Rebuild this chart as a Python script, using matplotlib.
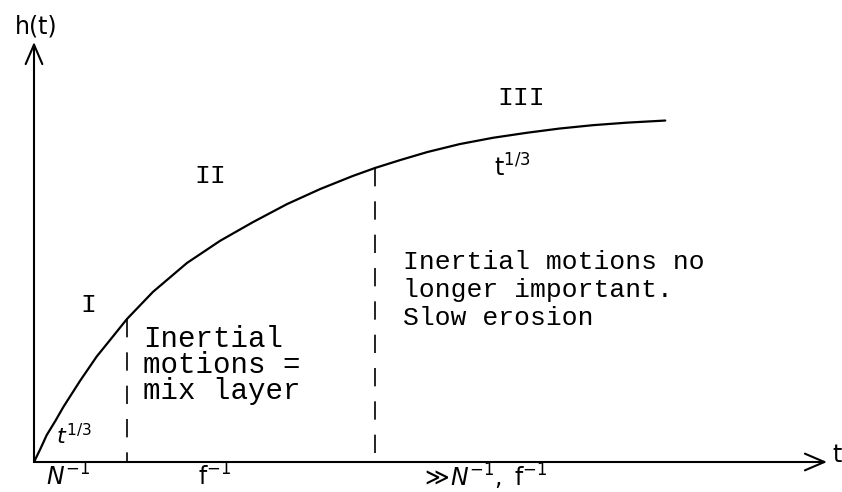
import matplotlib
matplotlib.use("Agg")
import matplotlib.pyplot as plt

plt.rcParams['mathtext.fontset'] = 'dejavusans'

# curve h(t) (axis units: 0..10 on both axes)
t_curve = [0.00, 0.08, 0.16, 0.27, 0.37, 0.58, 0.79, 1.00, 1.17, 1.50, 1.93,
           2.35, 2.76, 3.19, 3.61, 4.02, 4.30, 4.62, 4.96, 5.37, 5.79, 6.22,
           6.63, 7.05, 7.48, 7.96]
h_curve = [0.00, 0.31, 0.64, 0.98, 1.31, 1.93, 2.51, 3.00, 3.40, 4.05, 4.74,
           5.27, 5.71, 6.14, 6.50, 6.81, 7.00, 7.19, 7.38, 7.57, 7.72, 7.84,
           7.94, 8.02, 8.08, 8.13]

# regime boundaries (dashed lines)
t_bound = [1.17, 4.30]
h_bound = [3.40, 7.00]

regimes = ['I', 'II', 'III']
regime_t = [0.68, 2.22, 6.14]
regime_h = [3.74, 6.81, 8.67]

tick_labels = [r'$N^{-1}$', r'$\mathregular{f^{-1}}$', r'$\gg\! N^{-1},\ \mathregular{f^{-1}}$']
tick_t = [0.43, 2.28, 5.67]

notes = ['Inertial\nmotions =\nmix layer',
         'Inertial motions no\nlonger important.\nSlow erosion']
note_t = [1.37, 4.65]
note_h = [2.31, 4.10]

fig = plt.figure(figsize=(8.42, 4.92), dpi=100)
ax = fig.add_axes([34/842, 30/492, 793/842, 420/492])
ax.set_xlim(0, 10)
ax.set_ylim(0, 10)
ax.axis('off')

# axes drawn as arrows
arrow = dict(arrowstyle='->, head_length=1.4, head_width=0.6', lw=1.5, color='black',
             shrinkA=0, shrinkB=0)
ax.annotate('', xy=(10, 0), xytext=(0, 0), arrowprops=arrow, annotation_clip=False)
ax.annotate('', xy=(0, 10), xytext=(0, 0), arrowprops=arrow, annotation_clip=False)
ax.text(0.03, 10.38, 'h(t)', fontsize=17, ha='center', va='center', clip_on=False)
ax.text(10.13, 0.17, 't', fontsize=17, ha='center', va='center', clip_on=False)

ax.plot(t_curve, h_curve, color='black', lw=1.6, solid_joinstyle='round',
        solid_capstyle='round', clip_on=False)
# dashes start at the curve and run down to the axis
for tb, hb in zip(t_bound, h_bound):
    ax.plot([tb, tb], [hb, 0], color='black', lw=1.2, linestyle=(0, (11, 9)))

for lab, x, y in zip(regimes, regime_t, regime_h):
    ax.text(x, y, lab, fontsize=19, family='Liberation Mono', ha='center', va='center')

ax.text(0.50, 0.62, r'$t^{1/3}$', fontsize=16, ha='center', va='center')
ax.text(6.03, 7.00, r'$\mathregular{t^{1/3}}$', fontsize=17, ha='center', va='center')

for lab, x in zip(tick_labels, tick_t):
    ax.text(x, -0.36, lab, fontsize=17, ha='center', va='center', clip_on=False)

ax.text(note_t[0], note_h[0], notes[0], fontsize=21, family='Liberation Mono',
        ha='left', va='center', linespacing=0.92)
ax.text(note_t[1], note_h[1], notes[1], fontsize=19, family='Liberation Mono',
        ha='left', va='center', linespacing=1.2)

fig.savefig('out.png', dpi=100)
